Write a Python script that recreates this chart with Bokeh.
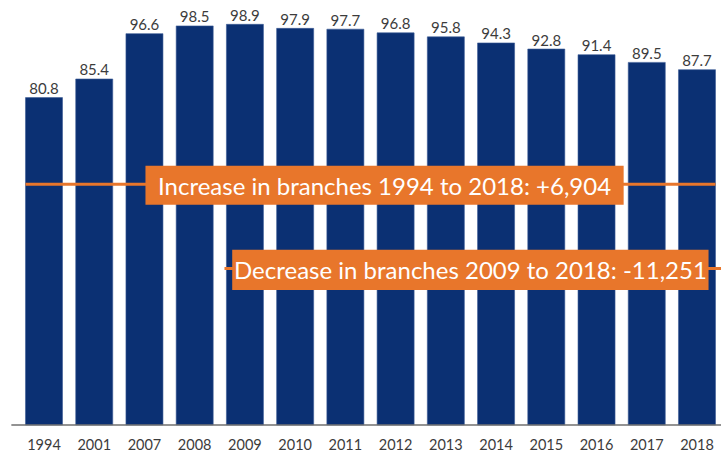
from bokeh.plotting import figure
from bokeh.models import ColumnDataSource, Range1d, FixedTicker
from bokeh.core.properties import value
from bokeh.embed import file_html
from bokeh.resources import INLINE

# ---- data ----
years = ["1994", "2001", "2007", "2008", "2009", "2010", "2011",
         "2012", "2013", "2014", "2015", "2016", "2017", "2018"]
values = [80.8, 85.4, 96.6, 98.5, 98.9, 97.9, 97.7,
          96.8, 95.8, 94.3, 92.8, 91.4, 89.5, 87.7]
labels = ["80.8", "85.4", "96.6", "98.5", "98.9", "97.9", "97.7",
          "96.8", "95.8", "94.3", "92.8", "91.4", "89.5", "87.7"]
notes = ["Increase in branches 1994 to 2018: +6,904",
         "Decrease in branches 2009 to 2018: -11,251"]

# ---- styling / layout constants ----
NAVY = "#0b3073"
ORANGE = "#e8762b"
FONT = "Lato"

xs = list(range(len(years)))
src = ColumnDataSource(dict(x=xs, top=values, label=labels))

p = figure(width=721, height=455, output_backend="svg", toolbar_location=None,
           x_range=Range1d(-0.866, 13.488), y_range=Range1d(-0.4, 104.78),
           min_border_left=0, min_border_right=0, min_border_top=0,
           min_border_bottom=29)
p.outline_line_color = None
p.grid.visible = False
p.yaxis.visible = False
p.background_fill_color = "white"
p.border_fill_color = "white"

p.vbar(x="x", top="top", bottom=0, width=0.737, source=src,
       fill_color=NAVY, line_color="#3a5a95", line_width=0.6)

# baseline
p.line(x=[-0.65, 13.488], y=[0, 0], line_color="#6f6f6f", line_width=1.5)

p.text(x="x", y="top", text="label", source=src, text_align="center",
       text_baseline="alphabetic", y_offset=-9, text_font=value(FONT),
       text_font_size="15px", text_color="#3c3c3c")

# annotation lines (decorative, positioned in plot units)
p.line(x=[-0.368, 13.368], y=[59.43, 59.43], line_color=ORANGE, line_width=3)
p.line(x=[3.593, 13.488], y=[38.59, 38.59], line_color=ORANGE, line_width=3)

# annotation boxes
p.quad(left=[2.02, 3.747], right=[11.54, 13.23], bottom=[54.32, 33.33],
       top=[63.95, 43.21], fill_color=ORANGE, line_color=None)
p.text(x=[6.78, 8.49], y=[59.14, 38.27], text=notes, text_align="center",
       text_baseline="middle", text_font=value(FONT), text_font_size="24px",
       text_color="white")

ax = p.xaxis[0]
ax.ticker = FixedTicker(ticks=xs)
ax.major_label_overrides = {i: y for i, y in zip(xs, years)}
ax.major_tick_line_color = None
ax.minor_tick_line_color = None
ax.major_tick_out = 0
ax.major_tick_in = 0
ax.axis_line_color = None
ax.major_label_text_font = FONT
ax.major_label_text_font_size = "14.5px"
ax.major_label_text_color = "#3c3c3c"
ax.major_label_standoff = 12

open("out.html", "w").write(file_html(p, INLINE))
